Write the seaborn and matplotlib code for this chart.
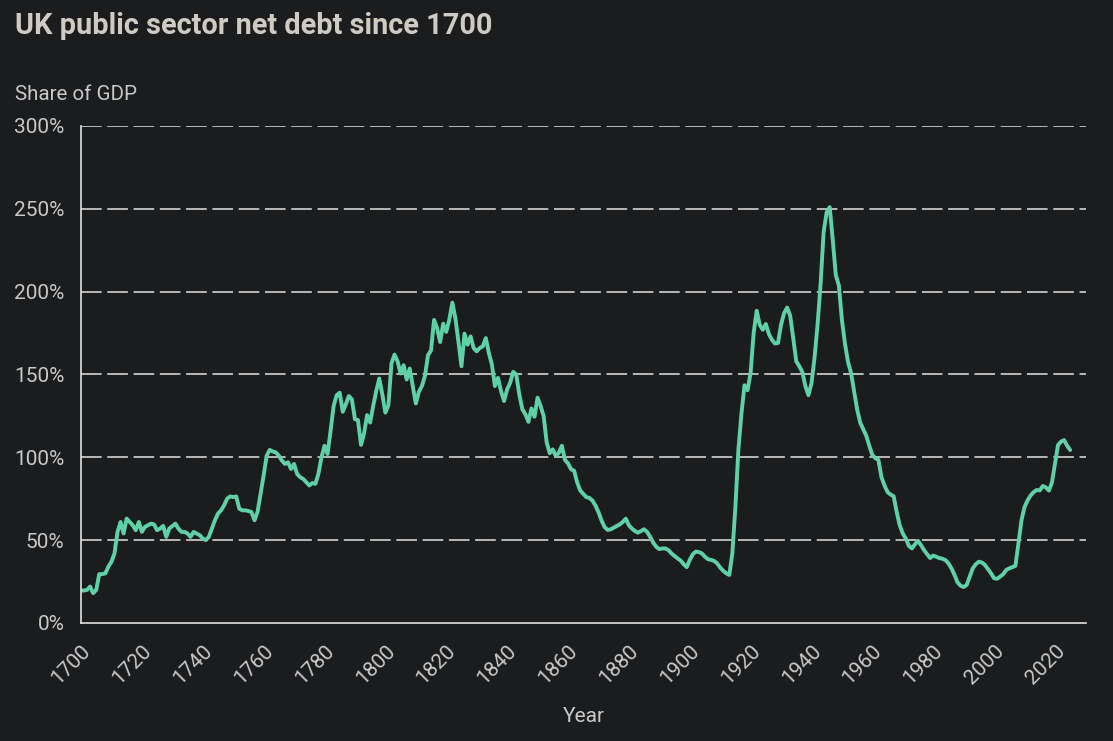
import numpy as np
import pandas as pd
import seaborn as sns
from matplotlib import pyplot as plt
from matplotlib.ticker import FuncFormatter

# share of GDP (%), one value per year
years = list(range(1700, 2026))
debt = [
    19.6, 19.6, 20, 22, 18, 20, 29.5, 29.5, 30, 34,            # 1700s
    37, 42, 55, 61, 54, 63, 61, 59, 56, 61,                      # 1710s
    55, 58, 59, 60, 59.5, 56, 57, 58.6, 52, 57,                  # 1720s
    58.5, 60, 57, 55, 55, 54, 52, 55, 54, 53,                    # 1730s
    51, 50, 52, 57, 62, 66, 68, 71, 75, 76.4,                    # 1740s
    76, 76.4, 69, 68, 68, 67.6, 67, 62, 67, 78,                  # 1750s
    89, 101, 104.5, 103.5, 103, 101, 98, 96, 97, 93,             # 1760s
    96, 90, 88, 87, 85, 83, 84.5, 84, 90, 100,                   # 1770s
    107, 102, 116, 131, 137.5, 139, 127.5, 132, 137, 135,        # 1780s
    123, 122.5, 107.5, 114.5, 125.5, 121, 131, 140, 147.6, 138,  # 1790s
    127, 131.5, 156.6, 162, 158, 150.6, 155.6, 147, 153.6, 143,  # 1800s
    132.5, 139.5, 143, 149, 161.6, 164.6, 183, 178, 169.6, 180.7,  # 1810s
    175.7, 183, 193.4, 184, 170, 155, 174.7, 168, 173, 166,      # 1820s
    164, 166, 167, 172, 163, 156, 143, 148, 140, 134,            # 1830s
    141, 145, 151.6, 150, 138, 129, 126, 121.4, 129.5, 124.5,    # 1840s
    136, 131, 125, 109, 102.5, 104.8, 100.8, 102.8, 107, 98.4,   # 1850s
    96.4, 92.8, 92, 85, 80, 78, 76, 75.5, 74, 71,                # 1860s
    67, 62, 58, 56.2, 56.5, 57.5, 58.5, 59.5, 61, 63,            # 1870s
    59, 57, 55.5, 54.5, 55.5, 56.6, 55, 52, 48.5, 46,            # 1880s
    44.6, 45, 45, 44, 42, 40.5, 39, 37.7, 35.5, 33.7,            # 1890s
    38, 41.5, 43.1, 42.8, 42, 40, 38.5, 38.1, 37.5, 36,          # 1900s
    33.5, 31.5, 30, 29, 42, 70, 105, 126.5, 143.5, 140.5,        # 1910s
    151, 175, 188.5, 180, 177, 180.5, 174.5, 171, 168.7, 169,    # 1920s
    180, 187, 190.4, 185.5, 172, 158, 155, 151.5, 143, 137.5,    # 1930s
    144.6, 160, 180, 204.8, 236, 248, 251, 231, 210, 203.8,      # 1940s
    183, 168.7, 157.6, 151, 140, 129, 121, 117, 113, 107,        # 1950s
    101.4, 99.5, 98.4, 88, 83, 79, 77.5, 76.5, 67, 59,           # 1960s
    54, 51, 46.5, 45, 47.5, 49.6, 47, 44, 41.5, 39.2,            # 1970s
    40.7, 40, 39.2, 38.8, 38, 36, 33, 29, 24.5, 22.5,            # 1980s
    21.7, 23, 28, 33, 35.5, 37, 36.5, 35, 32.5, 30,              # 1990s
    27, 26.7, 28, 29.5, 32, 33, 33.7, 34.5, 48, 62,              # 2000s
    70, 74, 77, 79, 80.3, 80, 82.7, 81.9, 79.9, 84.7,            # 2010s
    96, 107.4, 109.5, 110.4, 107, 104.4,                         # 2020s
]
x_ticks = list(range(1700, 2021, 20))
y_ticks = [0, 50, 100, 150, 200, 250, 300]

df = pd.DataFrame({"year": years, "debt": debt})

bg = "#1b1c1e"
fg = "#c8c8c8"
sns.set_style("dark", {"axes.facecolor": bg, "figure.facecolor": bg})
plt.rcParams["font.family"] = ["Roboto", "DejaVu Sans"]

fig = plt.figure(figsize=(11.13, 7.41), dpi=100)
ax = fig.add_axes([81 / 1113, 1 - 623 / 741, (1086 - 81) / 1113, (623 - 126) / 741])

sns.lineplot(data=df, x="year", y="debt", ax=ax, color="#5fd1a6", linewidth=2.8)

ax.set_xlim(1700, 2030.2)
ax.set_ylim(0, 300)
ax.set_xticks(x_ticks)
ax.set_yticks(y_ticks)
ax.yaxis.set_major_formatter(FuncFormatter(lambda v, p: f"{v:.0f}%"))

for y in y_ticks[1:]:
    ax.axhline(y, color="#e2e2e2", linewidth=1.1, dashes=(13.5, 3.7), zorder=0)

for s in ["top", "right"]:
    ax.spines[s].set_visible(False)
for s in ["left", "bottom"]:
    ax.spines[s].set_visible(True)
    ax.spines[s].set_color("#e0e0e0")
    ax.spines[s].set_linewidth(1.2)

ax.tick_params(axis="both", colors="#8a8a8a", length=10, width=1.5, labelsize=15,
               labelcolor=fg, direction="out")
ax.tick_params(axis="y", pad=2)
ax.tick_params(axis="x", pad=3)
plt.setp(ax.get_xticklabels(), rotation=45, ha="right", rotation_mode="anchor")

ax.set_xlabel("Year", color=fg, fontsize=15, labelpad=14)
ax.set_ylabel("")

fig.text(15 / 1113, 1 - 26 / 741, "UK public sector net debt since 1700", color="#cfcac4",
         fontsize=20.8, fontweight="bold", va="center", ha="left")
fig.text(15 / 1113, 1 - 94 / 741, "Share of GDP", color=fg, fontsize=14.8,
         va="center", ha="left")

fig.savefig("out.png", dpi=100, facecolor=bg)
